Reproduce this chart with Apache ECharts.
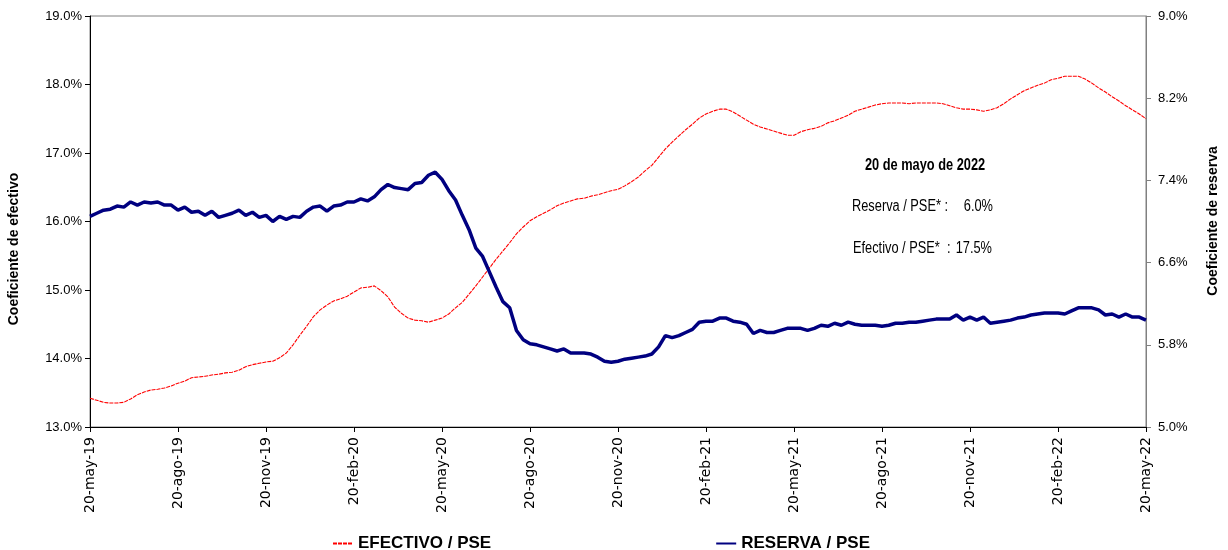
<!DOCTYPE html>
<html>
<head>
<meta charset="utf-8">
<script src="https://cdn.jsdelivr.net/npm/echarts@6/dist/echarts.min.js"></script>
<style>
html,body{margin:0;padding:0;background:#fff;}
#chart{width:1228px;height:550px;}
</style>
</head>
<body>
<div id="chart"></div>
<script>
// Quarterly tick labels on the x axis (every 13 weeks)
const tickLabels = ['20-may-19','20-ago-19','20-nov-19','20-feb-20','20-may-20','20-ago-20','20-nov-20','20-feb-21','20-may-21','20-ago-21','20-nov-21','20-feb-22','20-may-22'];

// Efectivo / PSE (left axis, %), weekly
const efectivo = [
13.42,13.39,13.36,13.35,13.35,13.36,13.41,13.47,13.51,13.54,13.55,13.57,13.60,
13.64,13.67,13.72,13.73,13.74,13.76,13.77,13.79,13.80,13.83,13.88,13.91,13.93,
13.95,13.96,14.01,14.08,14.20,14.34,14.47,14.61,14.71,14.78,14.84,14.87,14.91,
14.97,15.03,15.04,15.06,14.99,14.90,14.75,14.66,14.59,14.56,14.55,14.53,14.56,
14.59,14.65,14.74,14.82,14.94,15.06,15.19,15.32,15.45,15.57,15.69,15.82,15.92,
16.01,16.07,16.12,16.17,16.23,16.27,16.30,16.33,16.34,16.37,16.39,16.42,16.45,
16.47,16.52,16.58,16.65,16.74,16.82,16.94,17.06,17.16,17.25,17.34,17.42,17.51,
17.57,17.61,17.64,17.64,17.60,17.54,17.48,17.42,17.38,17.35,17.32,17.29,17.26,
17.26,17.31,17.34,17.36,17.39,17.44,17.47,17.51,17.55,17.61,17.64,17.67,17.70,
17.72,17.73,17.73,17.73,17.72,17.73,17.73,17.73,17.73,17.72,17.69,17.66,17.64,
17.64,17.63,17.61,17.63,17.66,17.72,17.79,17.85,17.91,17.95,17.99,18.02,18.07,
18.09,18.12,18.12,18.12,18.08,18.02,17.95,17.89,17.82,17.76,17.69,17.63,17.57,17.50
];

// Reserva / PSE (right axis, %), weekly
const reserva = [
7.05,7.08,7.11,7.12,7.15,7.14,7.19,7.16,7.19,7.18,7.19,7.16,7.16,
7.11,7.14,7.09,7.10,7.06,7.10,7.04,7.06,7.08,7.11,7.06,7.09,7.04,
7.06,7.00,7.05,7.02,7.05,7.04,7.10,7.14,7.15,7.10,7.15,7.16,7.19,
7.19,7.22,7.20,7.24,7.31,7.36,7.33,7.32,7.31,7.37,7.38,7.45,7.48,
7.41,7.30,7.21,7.06,6.92,6.74,6.66,6.51,6.36,6.22,6.16,5.94,5.85,
5.81,5.80,5.78,5.76,5.74,5.76,5.72,5.72,5.72,5.71,5.68,5.64,5.63,
5.64,5.66,5.67,5.68,5.69,5.71,5.78,5.89,5.87,5.89,5.92,5.95,6.02,
6.03,6.03,6.06,6.06,6.03,6.02,6.00,5.91,5.94,5.92,5.92,5.94,5.96,
5.96,5.96,5.94,5.96,5.99,5.98,6.01,5.99,6.02,6.00,5.99,5.99,5.99,
5.98,5.99,6.01,6.01,6.02,6.02,6.03,6.04,6.05,6.05,6.05,6.09,6.04,
6.07,6.04,6.07,6.01,6.02,6.03,6.04,6.06,6.07,6.09,6.10,6.11,6.11,
6.11,6.10,6.13,6.16,6.16,6.16,6.14,6.09,6.10,6.07,6.10,6.07,6.07,6.04
];

// Weekly category names (one per observation)
const weeks = efectivo.map((_, i) => 'S' + (i + 1));

const SANS = "'Liberation Sans', Arial, sans-serif";
const NARROW = 0.8; // horizontal condensing for the annotation text

const chart = echarts.init(document.getElementById('chart'));
chart.setOption({
  animation: false,
  backgroundColor: '#ffffff',
  grid: { left: 90, right: 82, top: 16, bottom: 123, show: true, borderColor: '#808080', borderWidth: 1 },
  legend: {
    top: 530, left: 327, itemGap: 224, itemWidth: 20, itemHeight: 10,
    itemStyle: { opacity: 0 },
    textStyle: { fontFamily: SANS, fontWeight: 'bold', fontSize: 17, color: '#000' },
    data: [{ name: 'EFECTIVO / PSE' }, { name: 'RESERVA / PSE' }]
  },
  xAxis: {
    type: 'category', data: weeks, boundaryGap: false,
    axisLine: { lineStyle: { color: '#000', width: 1 } },
    axisTick: { interval: 12, length: 5, lineStyle: { color: '#000' } },
    axisLabel: {
      interval: 12, rotate: 90, margin: 10,
      fontFamily: "'DejaVu Sans', sans-serif", fontSize: 14, color: '#000',
      formatter: (v, i) => tickLabels[Math.round(i / 13)]
    },
    splitLine: { show: false }
  },
  yAxis: [
    {
      type: 'value', min: 13, max: 19, interval: 1, position: 'left',
      axisLine: { show: true, lineStyle: { color: '#000' } },
      axisTick: { show: true, length: 5, lineStyle: { color: '#000' } },
      axisLabel: { margin: 8, fontFamily: SANS, fontSize: 13, color: '#000', formatter: v => v.toFixed(1) + '%' },
      splitLine: { show: false }
    },
    {
      type: 'value', min: 5, max: 9, interval: 0.8, position: 'right',
      axisLine: { show: true, lineStyle: { color: '#808080' } },
      axisTick: { show: true, length: 5, lineStyle: { color: '#808080' } },
      axisLabel: { margin: 12, fontFamily: SANS, fontSize: 13, color: '#000', formatter: v => v.toFixed(1) + '%' },
      splitLine: { show: false }
    }
  ],
  series: [
    {
      name: 'EFECTIVO / PSE', type: 'line', yAxisIndex: 0, data: efectivo,
      symbol: 'none', lineStyle: { color: '#ff0000', width: 1.1, type: [4, 1] },
      itemStyle: { color: '#ff0000' }
    },
    {
      name: 'RESERVA / PSE', type: 'line', yAxisIndex: 1, data: reserva,
      symbol: 'none', lineStyle: { color: '#000080', width: 3.5 },
      itemStyle: { color: '#000080' }
    }
  ],
  graphic: [
    { type: 'text', x: 14, y: 249, rotation: Math.PI / 2,
      style: { text: 'Coeficiente de efectivo', fontFamily: SANS, fontWeight: 'bold', fontSize: 14, fill: '#000', align: 'center', verticalAlign: 'middle' } },
    { type: 'text', x: 1213, y: 221, rotation: Math.PI / 2,
      style: { text: 'Coeficiente de reserva', fontFamily: SANS, fontWeight: 'bold', fontSize: 14, fill: '#000', align: 'center', verticalAlign: 'middle' } },
    { type: 'text', x: 925, y: 166, scaleX: NARROW,
      style: { text: '20 de mayo de 2022', fontFamily: SANS, fontWeight: 'bold', fontSize: 16, fill: '#000', align: 'center', verticalAlign: 'middle' } },
    { type: 'text', x: 852, y: 207, scaleX: NARROW,
      style: { text: 'Reserva / PSE* :', fontFamily: SANS, fontSize: 16, fill: '#000', align: 'left', verticalAlign: 'middle' } },
    { type: 'text', x: 993, y: 207, scaleX: NARROW,
      style: { text: '6.0%', fontFamily: SANS, fontSize: 16, fill: '#000', align: 'right', verticalAlign: 'middle' } },
    { type: 'text', x: 853, y: 249, scaleX: NARROW,
      style: { text: 'Efectivo / PSE*  :', fontFamily: SANS, fontSize: 16, fill: '#000', align: 'left', verticalAlign: 'middle' } },
    { type: 'text', x: 992, y: 249, scaleX: NARROW,
      style: { text: '17.5%', fontFamily: SANS, fontSize: 16, fill: '#000', align: 'right', verticalAlign: 'middle' } }
  ]
});
</script>
</body>
</html>
